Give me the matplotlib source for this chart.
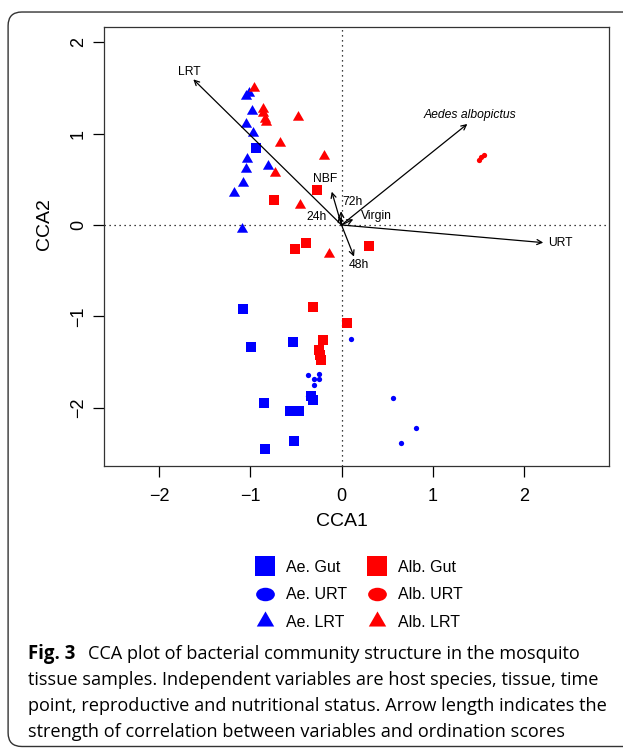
import numpy as np
import matplotlib
matplotlib.use("Agg")
import matplotlib.pyplot as plt
from matplotlib.lines import Line2D
from matplotlib.patches import FancyBboxPatch
from matplotlib.path import Path
from matplotlib.transforms import Affine2D

plt.rcParams["font.family"] = ["Liberation Sans", "DejaVu Sans"]

# site scores (CCA1, CCA2)
ae_gut_x = [-0.934, -1.076, -0.988, -0.528, -0.846, -0.564, -0.462, -0.517, -0.835, -0.331, -0.316]
ae_gut_y = [0.838, -0.921, -1.337, -1.282, -1.949, -2.036, -2.036, -2.364, -2.451, -1.869, -1.916]
alb_gut_x = [-0.265, -0.736, -0.386, -0.506, 0.305, -0.309, 0.064, -0.199, -0.243, -0.236, -0.228]
alb_gut_y = [0.383, 0.270, -0.197, -0.266, -0.230, -0.899, -1.074, -1.260, -1.366, -1.421, -1.475]
ae_urt_x = [0.101, -0.367, -0.250, -0.305, -0.243, -0.301, -0.367, 0.561, 0.820, 0.652]
ae_urt_y = [-1.243, -1.636, -1.625, -1.686, -1.686, -1.745, -1.866, -1.894, -2.215, -2.379]
alb_urt_x = [1.507, 1.534, 1.562]
alb_urt_y = [0.710, 0.743, 0.770]
ae_lrt_x = [-1.047, -1.014, -0.984, -1.050, -0.967, -1.039, -1.047, -1.076, -1.175, -0.802, -1.087]
ae_lrt_y = [1.410, 1.443, 1.249, 1.104, 1.002, 0.718, 0.609, 0.462, 0.346, 0.645, -0.047]
alb_lrt_x = [-0.962, -0.864, -0.857, -0.838, -0.824, -0.473, -0.671, -0.195, -0.732, -0.455, -0.140]
alb_lrt_y = [1.501, 1.271, 1.221, 1.155, 1.126, 1.177, 0.893, 0.757, 0.565, 0.215, -0.320]

# biplot arrows for the explanatory variables
arrow_names = ["LRT", "Aedes albopictus", "URT", "NBF", "72h", "24h", "Virgin", "48h"]
arrow_x = [-1.624, 1.379, 2.211, -0.107, -0.005, -0.030, 0.129, 0.137]
arrow_y = [1.592, 1.104, -0.193, 0.364, 0.150, 0.100, 0.062, -0.346]
label_x = [-1.668, 1.408, 2.402, -0.178, 0.118, -0.272, 0.386, 0.192]
label_y = [1.675, 1.202, -0.200, 0.500, 0.255, 0.090, 0.098, -0.437]

legend_labels = ["Ae. Gut", "Ae. URT", "Ae. LRT", "Alb. Gut", "Alb. URT", "Alb. LRT"]

caption_lines = [
    "CCA plot of bacterial community structure in the mosquito",
    "tissue samples. Independent variables are host species, tissue, time",
    "point, reproductive and nutritional status. Arrow length indicates the",
    "strength of correlation between variables and ordination scores",
]

BLUE = "#0000ff"
RED = "#ff0000"

# R-like filled triangle (equilateral) and squashed circle for the legend
tri = Path([(-0.5, -0.2887), (0.5, -0.2887), (0.0, 0.5774), (-0.5, -0.2887)], closed=True)
oval = Path.unit_circle().transformed(Affine2D().scale(1.0, 0.72))

fig = plt.figure(figsize=(6.23, 7.51), dpi=100)

# rounded frame around figure + caption
frame = FancyBboxPatch((0.013, 0.006), 1.1, 0.978, boxstyle="round,pad=0,rounding_size=0.022",
                       transform=fig.transFigure, fill=False, lw=1.0, ec="#333333",
                       mutation_aspect=623 / 751)
fig.patches.append(frame)

ax = fig.add_axes([0.1665, 0.380, 0.8105, 0.584])

ax.axhline(0, color="black", ls=(0, (1, 3)), lw=0.9)
ax.axvline(0, color="black", ls=(0, (1, 3)), lw=0.9)

ax.plot(ae_gut_x, ae_gut_y, "s", color=BLUE, ms=6.6, mew=0, ls="none")
ax.plot(alb_gut_x, alb_gut_y, "s", color=RED, ms=6.6, mew=0, ls="none")
ax.plot(ae_urt_x, ae_urt_y, "o", color=BLUE, ms=3.8, mew=0, ls="none")
ax.plot(alb_urt_x, alb_urt_y, "o", color=RED, ms=3.8, mew=0, ls="none")
ax.plot(ae_lrt_x, ae_lrt_y, marker=tri, color=BLUE, ms=9.3, mew=0, ls="none")
ax.plot(alb_lrt_x, alb_lrt_y, marker=tri, color=RED, ms=9.3, mew=0, ls="none")

for name, tx, ty, lx, ly in zip(arrow_names, arrow_x, arrow_y, label_x, label_y):
    ax.annotate("", xy=(tx, ty), xytext=(0, 0),
                arrowprops=dict(arrowstyle="->", color="black", lw=0.9,
                                shrinkA=0, shrinkB=0, mutation_scale=9))
    style = "italic" if name == "Aedes albopictus" else "normal"
    ax.text(lx, ly, name, fontsize=8.7, style=style, ha="center", va="center")

ax.set_xlim(-2.606, 2.928)
ax.set_ylim(-2.631, 2.164)
ax.set_xticks([-2, -1, 0, 1, 2])
ax.set_xticklabels(["\u22122", "\u22121", "0", "1", "2"])
ax.set_yticks([-2, -1, 0, 1, 2])
ax.set_yticklabels(["\u22122", "\u22121", "0", "1", "2"], rotation=90, va="center")
ax.tick_params(direction="out", length=8, width=0.9, labelsize=13, colors="black")
ax.tick_params(axis="x", pad=8)
ax.tick_params(axis="y", pad=4)
for s in ax.spines.values():
    s.set_linewidth(0.9)
    s.set_color("#333333")

# axis titles placed where the reference has them
fig.text(342 / 623, 1 - 521 / 751, "CCA1", fontsize=14, ha="center", va="center")
fig.text(45 / 623, 1 - 224 / 751, "CCA2", fontsize=14, ha="center", va="center", rotation=90)

handles = [
    Line2D([], [], marker="s", color=BLUE, ls="none", ms=14, mew=0),
    Line2D([], [], marker=oval, color=BLUE, ls="none", ms=13.5, mew=0),
    Line2D([], [], marker=tri, color=BLUE, ls="none", ms=14.5, mew=0),
    Line2D([], [], marker="s", color=RED, ls="none", ms=14, mew=0),
    Line2D([], [], marker=oval, color=RED, ls="none", ms=13.5, mew=0),
    Line2D([], [], marker=tri, color=RED, ls="none", ms=14.5, mew=0),
]
fig.legend(handles, legend_labels, ncol=2, loc="center", bbox_to_anchor=(0.575, 0.208),
           frameon=False, fontsize=11.5, handletextpad=0.6, columnspacing=1.2,
           labelspacing=0.78, handlelength=1.4)

cap_font = ["Open Sans", "DejaVu Sans"]
cap_size = 13.1
y0 = 1 - 654 / 751
dy = 26 / 751
fig.text(28 / 623, y0, "Fig. 3", fontsize=13.4, fontweight="bold", family=cap_font,
         va="center", ha="left")
fig.text(88 / 623, y0, caption_lines[0], fontsize=cap_size, family=cap_font,
         va="center", ha="left")
for i, line in enumerate(caption_lines[1:], start=1):
    fig.text(28 / 623, y0 - i * dy, line, fontsize=cap_size, family=cap_font,
             va="center", ha="left")

fig.savefig("out.png", dpi=100)
